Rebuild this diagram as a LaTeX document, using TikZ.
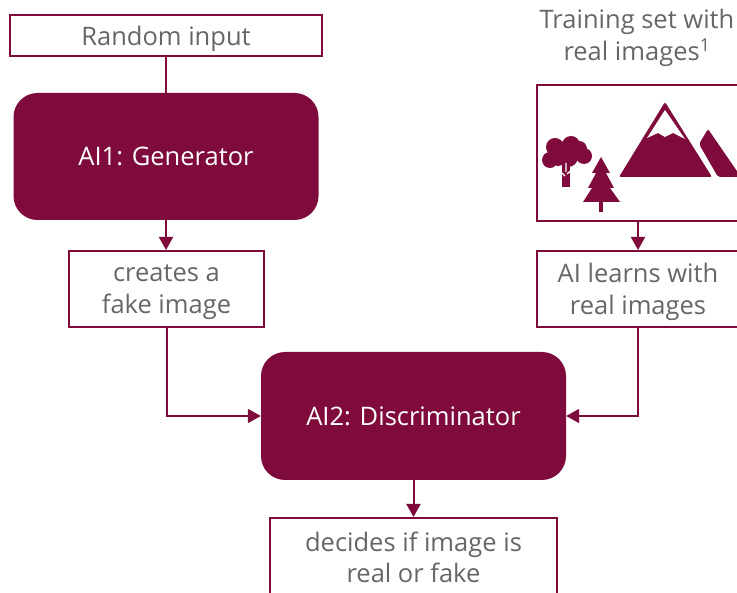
\documentclass[tikz,border=0pt]{standalone}
\usepackage{fontspec}
\setmainfont{Open Sans}
\usetikzlibrary{arrows.meta}
\definecolor{wine}{HTML}{7E0B3B}
\definecolor{txtgray}{HTML}{666666}
\tikzset{
  box/.style={draw=wine, line width=2pt, fill=white, text=txtgray, align=center, inner sep=0pt, text depth=0pt},
  ai/.style={fill=wine, rounded corners=24pt, text=white, inner sep=0pt},
  link/.style={wine, line width=2pt},
  flow/.style={link, -{Triangle[length=13pt,width=14pt]}},
}
\begin{document}
\begin{tikzpicture}[x=1pt,y=-1pt,font=\fontsize{25.5}{31.5}\selectfont]
    \useasboundingbox (0,0) rectangle (737,593);
    \clip (0,0) rectangle (737,593);
    % ------ generator side -----------------------------
    \node[box, minimum width=312pt, minimum height=41pt] (rnd) at (166,35.5) {Random input};
    \node[ai, minimum width=305pt, minimum height=127pt] (gen) at (166,156.5) {AI1: Generator};
    \node[box, minimum width=195pt, minimum height=76pt] (fake) at (166.5,289) {creates a\\fake image};
    % ------ real images ---------------------------------
    \node[text=txtgray, align=center] (train) at (637,38) {Training set with\\real images\textsuperscript{1}};
    \node[box, minimum width=202pt, minimum height=136pt] (photo) at (638,153) {};
    \node[box, minimum width=202pt, minimum height=76pt] (learn) at (638,289) {AI learns with\\real images};
    % ------ discriminator --------------------------------
    \node[ai, minimum width=305pt, minimum height=128pt] (disc) at (413.5,416) {AI2: Discriminator};
    \node[box, minimum width=287pt, minimum height=78pt] (dec) at (413.5,557) {decides if image is\\real or fake};
    \draw[link] (rnd.south) -- (gen.south |- rnd.south) -- (gen.north);
    \draw[flow] (gen.south) -- (gen.south |- fake.north);
    \draw[flow] (fake.south) |- (disc.west);
    \draw[flow] (photo.south) -- (learn.north);
    \draw[flow] (learn.south) |- (disc.east);
    \draw[flow] (disc.south) -- (dec.north);
    % ------ icon: trees and mountains ---------------------
    \fill[wine] (555,147) circle (9) (571,145) circle (9) (584,156) circle (8)
        (550,160) circle (8) (568,157) circle (10) (579,149) circle (8) (558,158) circle (8);
    \fill[wine] (562,164) -- (570,164) -- (570,187) -- (562,187) -- cycle;
    \draw[white, line width=1.3pt] (565,176) -- (555,166) (567,174) -- (579,164) (566,172) -- (566,163);
    \fill[wine] (601,157) -- (610,173) -- (606,173) -- (614,188) -- (610,188) -- (620,202)
        -- (583,202) -- (592,188) -- (588,188) -- (596,173) -- (592,173) -- cycle;
    \fill[wine] (599,200) rectangle (603,212);
    \fill[wine, rounded corners=2pt] (665,102) -- (712,177) -- (619,177) -- cycle;
    \fill[white] (665,110) -- (685,139) -- (673,133) -- (665,137) -- (658,133) -- (647,138) -- cycle;
    \fill[wine, rounded corners=2pt] (699,144) -- (708,129) -- (741,177) -- (718,177) -- cycle;
\end{tikzpicture}
\end{document}
